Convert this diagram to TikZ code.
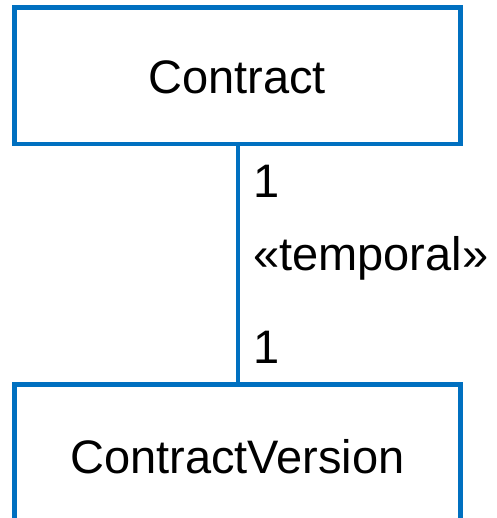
\documentclass[tikz,border=0pt]{standalone}
\usepackage{fontspec}
\setmainfont{Liberation Sans}
\definecolor{umlblue}{HTML}{0070C0}
\begin{document}
\begin{tikzpicture}[x=1pt,y=-1pt,
  classbox/.style={draw=umlblue, line width=4.7pt, minimum width=446pt, inner sep=0pt},
  assoc/.style={draw=umlblue, line width=4.7pt},
  label text/.style={font=\fontsize{47}{56}\selectfont, inner sep=0pt, anchor=base west},
  class text/.style={font=\fontsize{47}{56}\selectfont, inner sep=0pt, anchor=base}]
  \useasboundingbox (0,0) rectangle (496,518);
  % class boxes (the lower one runs past the bottom edge)
  \node[classbox, minimum height=136.5pt] (contract) at (237.5,75.75) {};
  \node[classbox, minimum height=200pt] (version) at (237.5,484.5) {};
  % class names
  \node[class text] (contractname) at (237,93.3) {Contract};
  \node[class text] (versionname) at (237.5,473.5) {ContractVersion};
  % association between the classes
  \draw[assoc] (contract.south -| 238,0) -- (version.north -| 238,0);
  % multiplicities and stereotype
  \node[label text] (multtop) at (253,197.7) {1};
  \node[label text] (stereo) at (253,270) {«temporal»};
  \node[label text] (multbottom) at (253,363) {1};
\end{tikzpicture}
\end{document}
